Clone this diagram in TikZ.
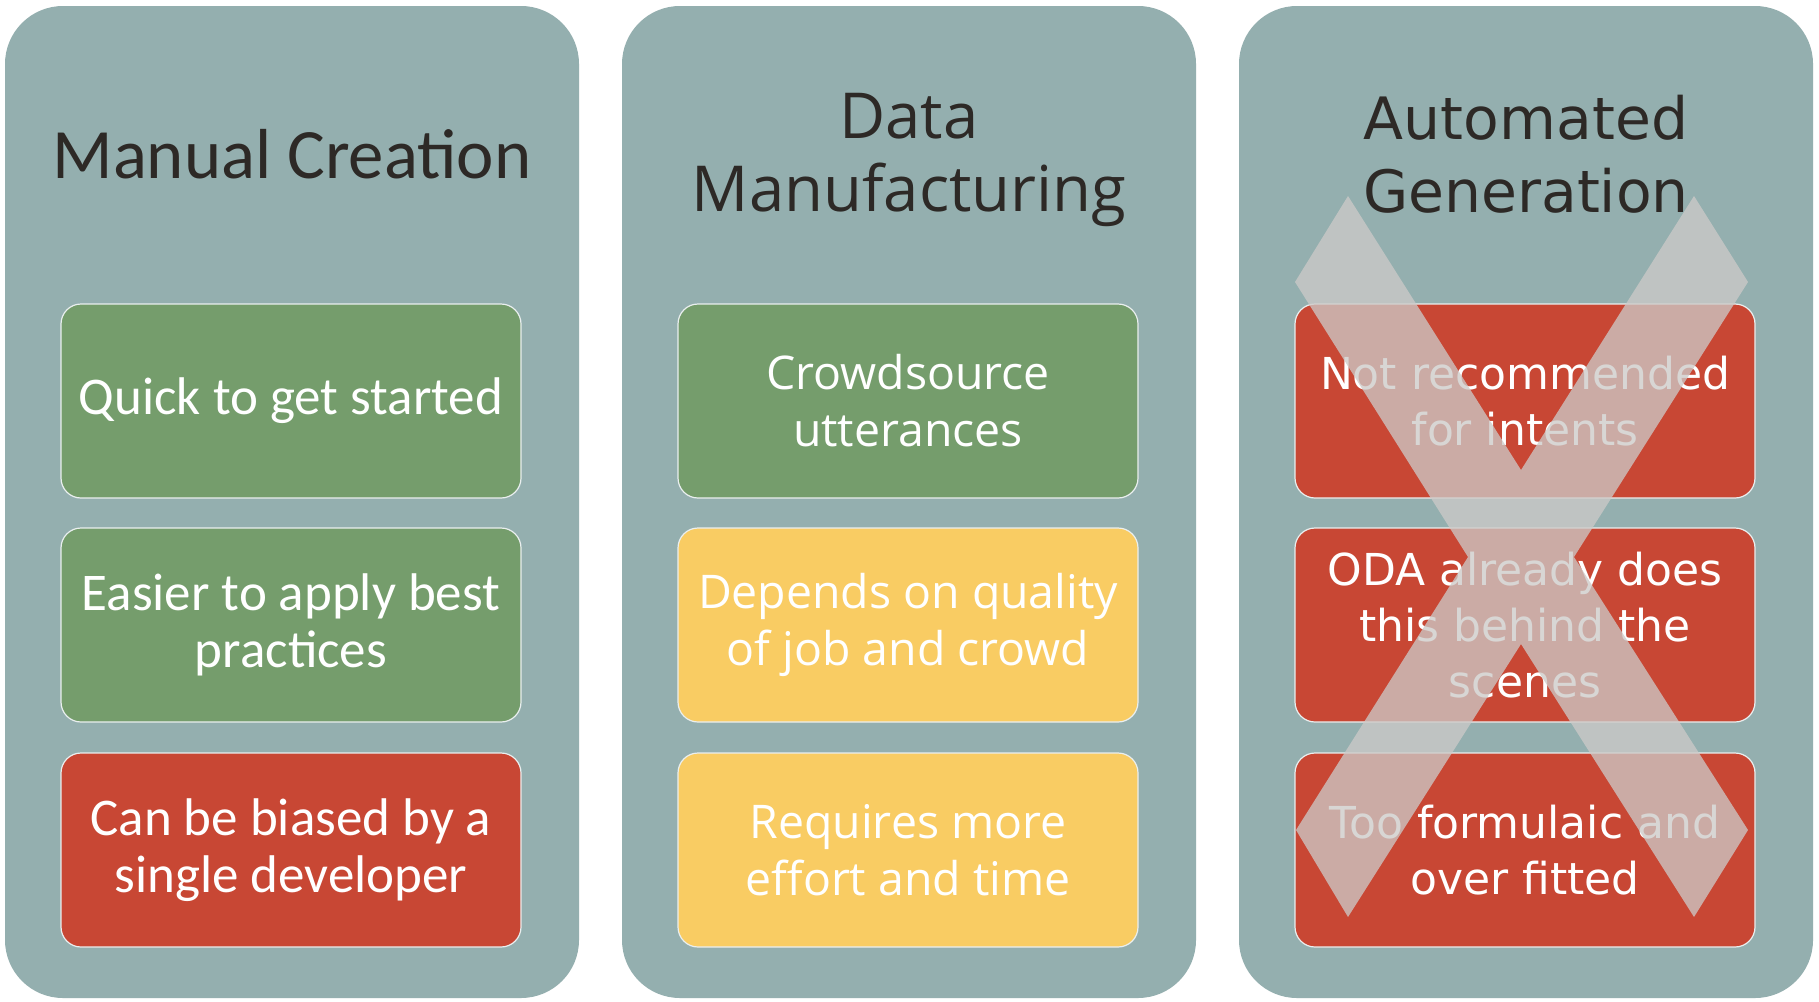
\documentclass[tikz,border=0pt]{standalone}
\usepackage{fontspec}
\newfontfamily\fontA{Carlito}
\newfontfamily\fontB{Open Sans}
\newfontfamily\fontC{DejaVu Sans}

\definecolor{panelgray}{HTML}{94AFAF}
\definecolor{okgreen}{HTML}{759D6C}
\definecolor{midyellow}{HTML}{F9CC63}
\definecolor{badred}{HTML}{C84734}
\definecolor{titleink}{HTML}{2D2926}
\definecolor{crossgray}{HTML}{CDCAC8}

\tikzset{
  panel/.style={rounded corners=29pt, fill=panelgray, minimum width=287pt, minimum height=496pt, inner sep=0pt},
  card/.style={rounded corners=10pt, draw=white!80!panelgray, line width=0.6pt, minimum width=230pt, minimum height=97pt, inner sep=0pt, text=white, align=center},
  ttl/.style={text=titleink, align=center, inner sep=0pt}
}

\begin{document}
\begin{tikzpicture}[x=0.5pt, y=-0.5pt]
  \useasboundingbox[fill=white] (0,0) rectangle (1819,1001);

  % panels
  \node[panel] (p1) at (292,502) {};
  \node[panel] (p2) at (909,502) {};
  \node[panel] (p3) at (1526,502) {};

  % Manual Creation
  \node[ttl, font=\fontA\fontsize{35.4}{40}\selectfont] (t1) at (292,154) {Manual Creation};
  \node[card, fill=okgreen, font=\fontA\fontsize{26.5}{28.5}\selectfont] (c11) at (291,401) {Quick to get started};
  \node[card, fill=okgreen, font=\fontA\fontsize{26.5}{28.5}\selectfont] (c12) at (291,625) {Easier to apply best\\practices};
  \node[card, fill=badred, font=\fontA\fontsize{26.5}{28.5}\selectfont] (c13) at (291,850) {Can be biased by a\\single developer};

  % Data Manufacturing
  \node[ttl, font=\fontB\fontsize{31.7}{36.5}\selectfont] (t2) at (909,160) {Data\\Manufacturing};
  \node[card, fill=okgreen, font=\fontB\fontsize{23.2}{28.5}\selectfont] (c21) at (908,401) {Crowdsource\\utterances};
  \node[card, fill=midyellow, font=\fontB\fontsize{23.2}{28.5}\selectfont] (c22) at (908,625) {Depends on quality\\of job and crowd};
  \node[card, fill=midyellow, font=\fontB\fontsize{23.2}{28.5}\selectfont] (c23) at (908,850) {Requires more\\effort and time};

  % Automated Generation
  \node[ttl, font=\fontC\fontsize{29.2}{36.5}\selectfont] (t3) at (1526,154) {Automated\\Generation};
  \node[card, fill=badred, font=\fontC\fontsize{22}{28}\selectfont] (c31) at (1525,401) {Not recommended\\for intents};
  \node[card, fill=badred, font=\fontC\fontsize{22}{28}\selectfont] (c32) at (1525,625) {ODA already does\\this behind the\\scenes};
  \node[card, fill=badred, font=\fontC\fontsize{22}{28}\selectfont] (c33) at (1525,850) {Too formulaic and\\over fitted};

  % cross over the third column
  \fill[crossgray, opacity=0.77] (1348,196) -- (1521,470) -- (1694,196) -- (1748,282)
    -- (1574,557) -- (1748,830) -- (1694,917) -- (1521,644) -- (1348,917)
    -- (1296,830) -- (1468,557) -- (1295,282) -- cycle;
\end{tikzpicture}
\end{document}
